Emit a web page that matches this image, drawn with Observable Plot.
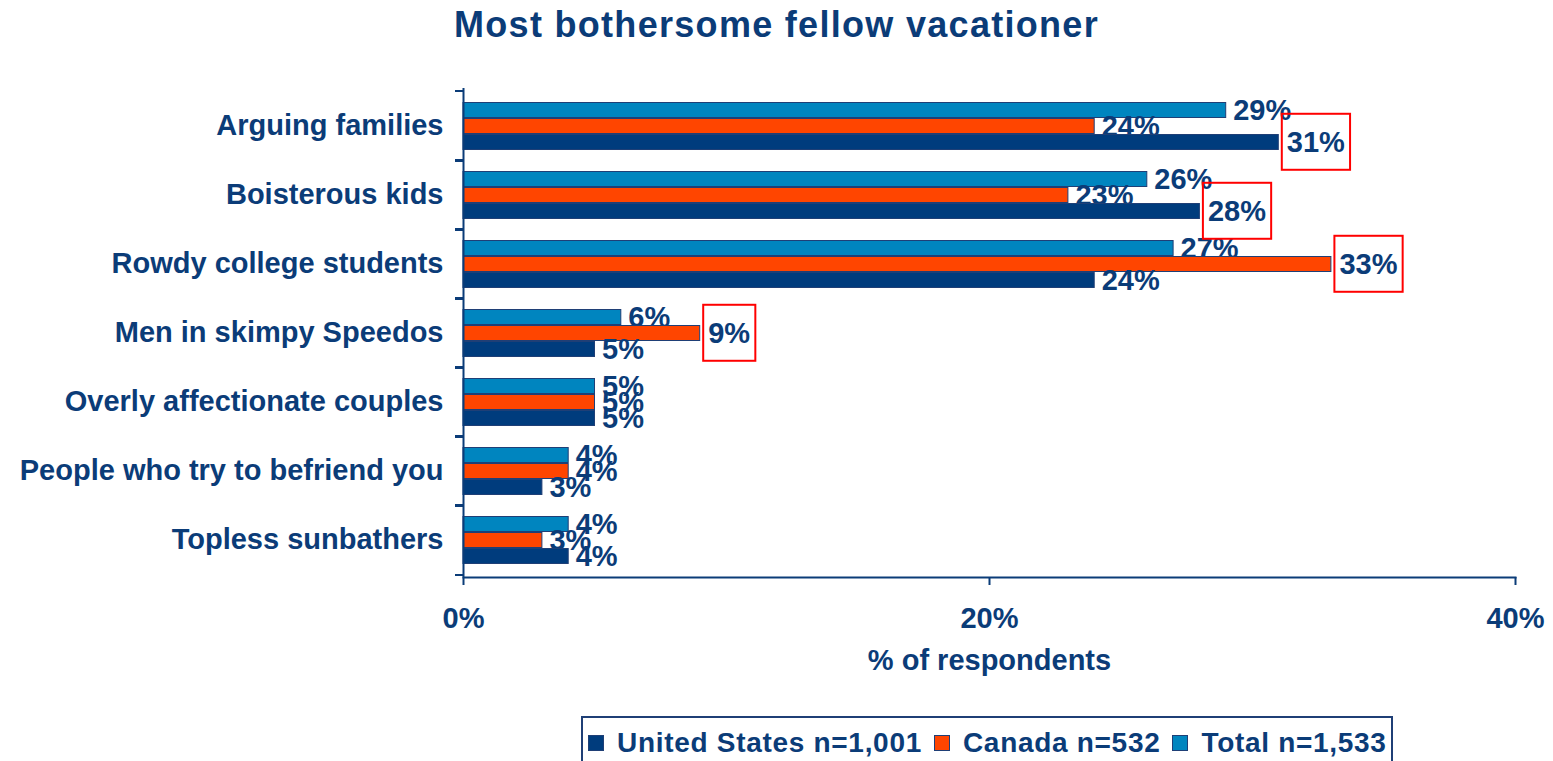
<!DOCTYPE html>
<html>
<head>
<meta charset="utf-8">
<script src="https://cdn.jsdelivr.net/npm/d3@7"></script>
<script src="https://cdn.jsdelivr.net/npm/@observablehq/plot@0.6"></script>
<style>
  html, body { margin: 0; padding: 0; background: #fff; }
  body { width: 1553px; height: 761px; position: relative; overflow: hidden; font-family: "Liberation Sans", Arial, sans-serif; color: #0B3C78; }
  #title { position: absolute; left: 0; top: 4px; width: 1553px; text-align: center; font-weight: bold; font-size: 36px; letter-spacing: 1.3px; line-height: 1.15; }
  #chart { position: absolute; left: 0; top: 60px; }
  #legend { position: absolute; left: 581px; top: 716px; width: 812px; height: 60px; border: 2px solid #1F3F76; box-sizing: border-box; display: flex; align-items: flex-start; padding: 9px 0 0 5px; font-weight: bold; font-size: 28px; letter-spacing: 0.7px; line-height: 32px; white-space: nowrap; }
  .item { display: flex; align-items: center; margin-right: 12px; }
  .sw { width: 14px; height: 14px; border: 1px solid #1F3F76; margin-right: 13px; }
</style>
</head>
<body>
<div id="title"></div>
<div id="chart"></div>
<div id="legend"></div>
<script>
// ---- data ----
const chartTitle = "Most bothersome fellow vacationer";
const xLabel = "% of respondents";
const categories = [
  "Arguing families",
  "Boisterous kids",
  "Rowdy college students",
  "Men in skimpy Speedos",
  "Overly affectionate couples",
  "People who try to befriend you",
  "Topless sunbathers"
];
const unitedStates = [31, 28, 24, 5, 5, 3, 4];
const canada = [24, 23, 33, 9, 5, 4, 3];
const total = [29, 26, 27, 6, 5, 4, 4];
const xTicks = [0, 20, 40];
const seriesKeys = ["United States", "Canada", "Total"];
const legendLabels = ["United States n=1,001", "Canada n=532", "Total n=1,533"];
const highlighted = [
  ["Arguing families", "United States"],
  ["Boisterous kids", "United States"],
  ["Rowdy college students", "Canada"],
  ["Men in skimpy Speedos", "Canada"]
];

// ---- styles ----
const navy = "#0B3C78";
const colors = {"United States": "#003C7D", "Canada": "#FF4500", "Total": "#0085BF"};
const barOffset = {"Total": -15.5, "Canada": 0.5, "United States": 16.5};
const drawOrder = ["Total", "Canada", "United States"];

const valuesBySeries = {"United States": unitedStates, "Canada": canada, "Total": total};
const rows = seriesKeys.flatMap(s => categories.map((c, i) => ({
  category: c, series: s, value: valuesBySeries[s][i],
  hi: highlighted.some(([hc, hs]) => hc === c && hs === s)
})));

document.getElementById("title").textContent = chartTitle;

const textStyle = {fontSize: 29, fontWeight: "bold", fill: navy};

const marks = [];
for (const s of drawOrder) {
  const data = rows.filter(d => d.series === s);
  marks.push(
    Plot.barX(data, {x: "value", y: "category", fill: colors[s], stroke: "#1F3F76", strokeWidth: 1,
      insetTop: 27, insetBottom: 27, dy: barOffset[s]}),
    Plot.text(data.filter(d => !d.hi), {x: "value", y: "category", text: d => d.value + "%",
      textAnchor: "start", dx: 7, dy: barOffset[s], ...textStyle}),
    Plot.text(data.filter(d => d.hi), {x: "value", y: "category", text: d => d.value + "%",
      textAnchor: "start", dx: 8, dy: barOffset[s], ariaDescription: "highlighted", ...textStyle})
  );
}

const plot = Plot.plot({
  width: 1553,
  height: 650,
  marginLeft: 463,
  marginRight: 38,
  marginTop: 28,
  marginBottom: 133,
  style: {color: navy, fontFamily: "'Liberation Sans', Arial, sans-serif", background: "white"},
  x: {domain: [0, 40]},
  y: {domain: categories, padding: 0},
  marks: [
    ...marks,
    Plot.ruleX([0], {stroke: navy, strokeWidth: 2}),
    Plot.frame({anchor: "bottom", stroke: navy, strokeWidth: 2}),
    Plot.axisY({tickSize: 0, tickPadding: 20, label: null, ...textStyle}),
    Plot.axisY({tickSize: 8, tickFormat: () => "", label: null, stroke: navy, strokeWidth: 2, dy: -35}),
    Plot.axisY({tickSize: 8, tickFormat: () => "", label: null, stroke: navy, strokeWidth: 2, dy: 35}),
    Plot.axisX({ticks: xTicks, tickFormat: d => d + "%", tickSize: 8, tickPadding: 22, label: null,
      stroke: navy, strokeWidth: 2, ...textStyle}),
    Plot.text([xLabel], {frameAnchor: "bottom", dy: 92, text: d => d, ...textStyle})
  ]
});
document.getElementById("chart").appendChild(plot);

// red boxes around highlighted labels (sized from the rendered text, sharing its transform)
plot.querySelectorAll('g[aria-description="highlighted"] text').forEach(t => {
  const bb = t.getBBox();
  const cy = bb.y + bb.height / 2;
  const r = document.createElementNS("http://www.w3.org/2000/svg", "rect");
  const tf = t.getAttribute("transform");
  if (tf) r.setAttribute("transform", tf);
  r.setAttribute("x", bb.x - 5);
  r.setAttribute("y", cy - 28);
  r.setAttribute("width", bb.width + 10);
  r.setAttribute("height", 56);
  r.setAttribute("fill", "none");
  r.setAttribute("stroke", "#FF0000");
  r.setAttribute("stroke-width", 2);
  t.parentNode.appendChild(r);
});

// legend
const legend = document.getElementById("legend");
seriesKeys.forEach((s, i) => {
  const it = document.createElement("div");
  it.className = "item";
  const sw = document.createElement("div");
  sw.className = "sw";
  sw.style.background = colors[s];
  const lb = document.createElement("span");
  lb.textContent = legendLabels[i];
  it.appendChild(sw); it.appendChild(lb);
  legend.appendChild(it);
});
</script>
</body>
</html>
